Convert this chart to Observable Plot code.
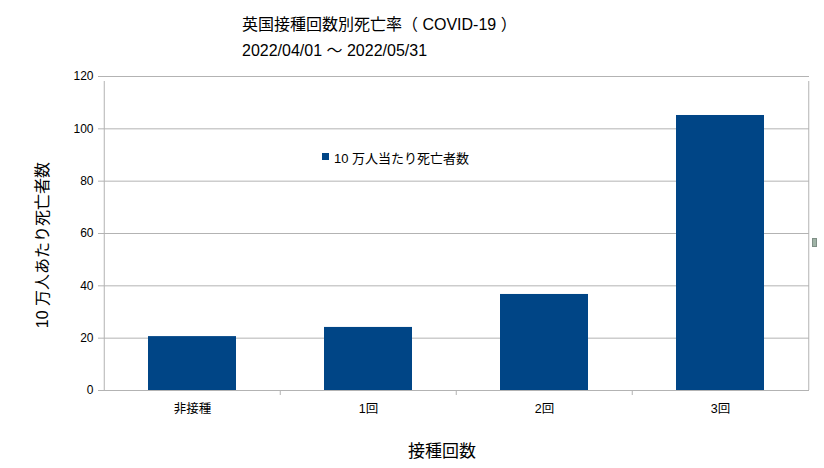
<!DOCTYPE html>
<html><head><meta charset="utf-8">
<script src="https://cdn.jsdelivr.net/npm/d3@7"></script>
<script src="https://cdn.jsdelivr.net/npm/@observablehq/plot@0.6"></script>
<style>
body{margin:0;background:#fff;}
#wrap{position:relative;width:824px;height:468px;font-family:"Liberation Sans","Noto Sans CJK JP",sans-serif;color:#000;}
.t{position:absolute;white-space:nowrap;}
</style></head>
<body><div id="wrap"></div>
<script>
const categories = ["非接種", "1回", "2回", "3回"];
const deaths = [20.6, 24.1, 36.7, 105.1];
const yTicks = [0, 20, 40, 60, 80, 100, 120];
const title = "英国接種回数別死亡率（ COVID-19 ）";
const subtitle = "2022/04/01 〜 2022/05/31";
const yLabel = "10 万人あたり死亡者数";
const xLabel = "接種回数";
const seriesName = "10 万人当たり死亡者数";

const data = categories.map((c, i) => ({cat: c, v: deaths[i]}));
const W = 824, H = 468, mL = 103, mR = 15, mT = 76, mB = 78;
const step = (W - mL - mR) / categories.length;
const grid = "#b3b3b3";
const blue = "#004586";

const chart = Plot.plot({
  width: W, height: H,
  marginLeft: mL, marginRight: mR, marginTop: mT, marginBottom: mB,
  style: {fontFamily: '"Liberation Sans","Noto Sans CJK JP",sans-serif', fontSize: "12px", color: "#000", background: "#fff"},
  x: {domain: categories, paddingInner: 0.5, paddingOuter: 0.25, label: null},
  y: {domain: [0, 120], label: null},
  marks: [
    Plot.ruleY(yTicks, {stroke: grid, strokeWidth: 1}),
    Plot.axisY({ticks: yTicks, tickSize: 5, tickPadding: 5, stroke: grid, fill: "#000", label: null, fontSize: 12}),
    Plot.barY(data, {x: "cat", y: "v", fill: blue}),
    Plot.ruleX([categories[0]], {dx: -step / 2, y1: 0, y2: 120, insetBottom: -5, stroke: grid}),
    Plot.ruleX([categories[categories.length - 1]], {dx: step / 2, y1: 0, y2: 120, insetBottom: -5, stroke: grid}),
    Plot.ruleX(categories.slice(1), {dx: -step / 2, y1: 0, y2: 0, insetBottom: -5, stroke: grid}),
    Plot.axisX({tickSize: 0, tickPadding: 14, label: null, fontSize: 12.5}),
    Plot.ruleY([0], {stroke: grid})
  ]
});
const wrap = document.getElementById("wrap");
chart.style.position = "absolute"; chart.style.left = "0"; chart.style.top = "0";
wrap.appendChild(chart);

function addText(txt, css) {
  const d = document.createElement("div");
  d.className = "t"; d.textContent = txt;
  Object.assign(d.style, css);
  wrap.appendChild(d);
  return d;
}
addText(title, {left: "242px", top: "11px", fontSize: "16px"});
addText(subtitle, {left: "242px", top: "37px", fontSize: "16px"});
addText(xLabel, {left: "408px", top: "437px", fontSize: "17px"});
addText(yLabel, {left: "41px", top: "245px", fontSize: "16px", transform: "translate(-50%,-50%) rotate(-90deg)"});
const sw = document.createElement("div");
Object.assign(sw.style, {position: "absolute", left: "322px", top: "153px", width: "7px", height: "7px", background: blue});
wrap.appendChild(sw);
addText(seriesName, {left: "334px", top: "148px", fontSize: "13px"});
const g = document.createElement("div");
Object.assign(g.style, {position: "absolute", left: "812px", top: "238px", width: "3px", height: "7px", background: "#9fb3a6", border: "1px solid #7f8f86"});
wrap.appendChild(g);
</script></body></html>
